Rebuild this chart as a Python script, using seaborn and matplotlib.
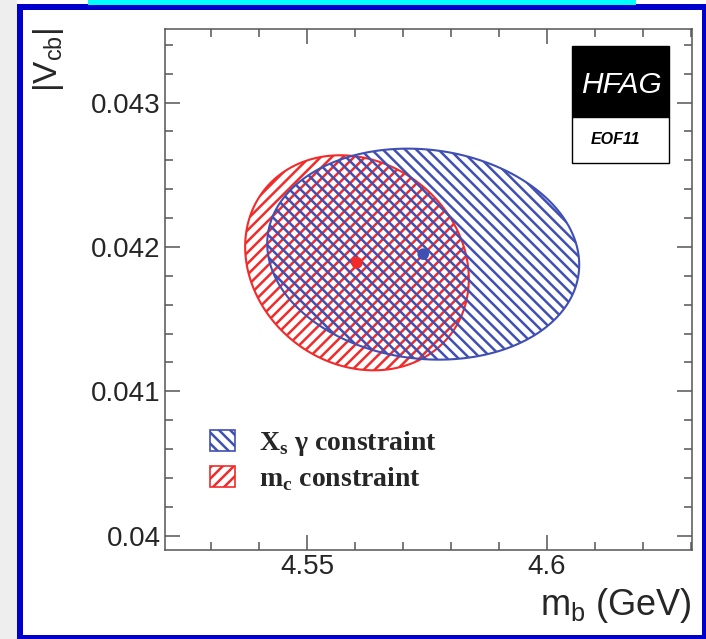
import numpy as np
import pandas as pd
import seaborn as sns
import matplotlib.pyplot as plt
from matplotlib.patches import Rectangle, Patch
from matplotlib.ticker import FixedLocator, MultipleLocator

# values
labels = ['X$_\\mathregular{s}$ \u03b3 constraint', 'm$_\\mathregular{c}$ constraint']
colors = ['#3f4fb3', '#f22a2a']
hatches = ['\\\\\\', '///']
centre_mb = [4.5742, 4.5604]
centre_vcb = [0.04195, 0.04189]
half_width_mb = [0.0325, 0.0233]
half_height_vcb = [0.000731, 0.000745]
corr = [-0.10, -0.15]

x_ticks = [4.55, 4.60]
x_tick_labels = ['4.55', '4.6']
y_ticks = [0.040, 0.041, 0.042, 0.043]
y_tick_labels = ['0.04', '0.041', '0.042', '0.043']

sns.set_style('ticks')
plt.rcParams['font.family'] = ['Liberation Sans', 'DejaVu Sans']
plt.rcParams['hatch.linewidth'] = 1.8

fig = plt.figure(figsize=(7.06, 6.39), dpi=100)
W, H = 706, 639

def px(x0, y0, x1, y1):
    return (x0 / W, 1 - y1 / H), (x1 - x0) / W, (y1 - y0) / H

# slide frame around the plot
for (x0, y0, x1, y1), c in [((0, 0, 17, 639), '#eeeeee'),
                            ((17, 4, 23, 639), '#0000cc'),
                            ((702, 4, 706, 639), '#0000cc'),
                            ((17, 4, 706, 10), '#0000cc'),
                            ((17, 635, 706, 639), '#0000cc'),
                            ((88, 0, 636, 5), '#00ffff')]:
    xy, w, h = px(x0, y0, x1, y1)
    fig.patches.append(Rectangle(xy, w, h, transform=fig.transFigure,
                                 facecolor=c, edgecolor='none', zorder=0))

ax = fig.add_axes([165 / W, 1 - 550 / H, 527 / W, 521 / H])
ax.set_facecolor('white')

t = np.linspace(0, 2 * np.pi, 300)
for i in [1, 0]:
    ex = centre_mb[i] + half_width_mb[i] * np.cos(t)
    ey = centre_vcb[i] + half_height_vcb[i] * (corr[i] * np.cos(t) + np.sqrt(1 - corr[i] ** 2) * np.sin(t))
    ax.fill(ex, ey, facecolor='none', edgecolor=colors[i], hatch=hatches[i], lw=1.5, zorder=2)

centres = pd.DataFrame({'mb': centre_mb, 'vcb': centre_vcb, 'c': ['xs', 'mc']})
sns.scatterplot(data=centres.iloc[::-1], x='mb', y='vcb', hue='c',
                palette={'xs': colors[0], 'mc': colors[1]}, s=70,
                edgecolor='none', legend=False, ax=ax, zorder=3)

ax.set_xlim(4.5204, 4.6302)
ax.set_ylim(0.0399, 0.04351)
ax.xaxis.set_major_locator(FixedLocator(x_ticks))
ax.set_xticklabels(x_tick_labels)
ax.xaxis.set_minor_locator(MultipleLocator(0.01))
ax.yaxis.set_major_locator(FixedLocator(y_ticks))
ax.set_yticklabels(y_tick_labels)
ax.yaxis.set_minor_locator(MultipleLocator(0.0002))
ax.tick_params(which='both', direction='in', top=True, right=True,
               color='#555555', width=1.1, labelsize=20, pad=3)
ax.tick_params(which='major', length=11)
ax.tick_params(which='minor', length=6)
for s in ax.spines.values():
    s.set_color('#555555')
    s.set_linewidth(1.1)
ax.set_xlabel('')
ax.set_ylabel('')

fig.text(692 / W, 1 - 615 / H, 'm$_\\mathregular{b}$ (GeV)', ha='right',
         va='baseline', fontsize=26)
fig.text(48 / W, 1 - 27 / H, '|V$_\\mathregular{cb}$|', rotation=90,
         ha='center', va='top', fontsize=24)

# HFAG logo box
ax.add_patch(Rectangle((0.772, 0.831), 0.184, 0.136, transform=ax.transAxes,
                       facecolor='black', edgecolor='black', lw=1, zorder=4))
ax.add_patch(Rectangle((0.772, 0.743), 0.184, 0.088, transform=ax.transAxes,
                       facecolor='white', edgecolor='black', lw=1, zorder=4))
ax.text(0.866, 0.893, 'HFAG', transform=ax.transAxes, color='white',
        style='italic', fontsize=21.5, ha='center', va='center', zorder=5)
ax.text(0.855, 0.787, 'EOF11', transform=ax.transAxes, color='black',
        style='italic', weight='bold', fontsize=11.5, ha='center',
        va='center', zorder=5)

handles = [Patch(facecolor='white', edgecolor=colors[i], hatch=hatches[i], lw=1.2)
           for i in range(2)]
ax.legend(handles, labels, loc='upper left', bbox_to_anchor=(0.0854, 0.2322),
          frameon=False, borderpad=0, borderaxespad=0, handlelength=0.9,
          handleheight=0.8, handletextpad=0.85, labelspacing=0.25,
          prop={'family': 'Liberation Serif', 'size': 20, 'weight': 'bold'})

fig.savefig('out.png', dpi=100)
